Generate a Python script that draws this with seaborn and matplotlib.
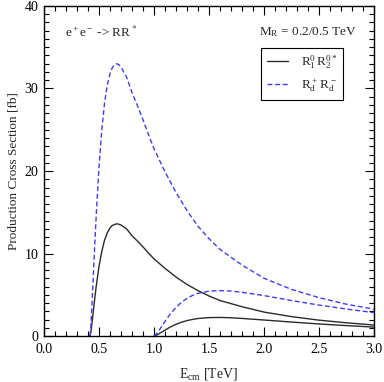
import numpy as np
import pandas as pd
import matplotlib
matplotlib.use('Agg')
import matplotlib.pyplot as plt
import matplotlib.ticker as ticker
import seaborn as sns

#=============================================================================
# values

# light pair (M_R = 0.2 TeV)
e_light = [0.418, 0.425, 0.43, 0.44, 0.45, 0.46, 0.475, 0.50, 0.525, 0.55,
           0.575, 0.60, 0.62, 0.63, 0.66, 0.68, 0.70, 0.75, 0.80, 0.85, 0.90,
           0.95, 1.00, 1.10, 1.20, 1.30, 1.40, 1.50, 1.60, 1.80, 2.00, 2.25,
           2.50, 2.75, 3.00]
xs_neutral_light = [0.0, 0.42, 0.9, 2.0, 3.2, 4.4, 6.05, 8.45, 10.25, 11.6,
                    12.5, 13.1, 13.4, 13.45, 13.6, 13.55, 13.45, 13.0, 12.15,
                    11.5, 10.8, 10.05, 9.35, 8.2, 7.15, 6.25, 5.5, 4.85, 4.3,
                    3.55, 2.9, 2.35, 1.92, 1.6, 1.33]
xs_charged_light = [0.0, 1.0, 2.2, 4.9, 7.8, 10.7, 14.7, 20.5, 24.9, 28.2,
                    30.4, 31.8, 32.5, 32.7, 33.0, 32.9, 32.6, 31.4, 29.5,
                    27.9, 26.2, 24.4, 22.7, 19.9, 17.4, 15.2, 13.3, 11.8,
                    10.5, 8.6, 7.0, 5.65, 4.65, 3.85, 3.25]

# heavy pair (M_R = 0.5 TeV)
e_heavy = [1.0, 1.025, 1.05, 1.1, 1.15, 1.2, 1.25, 1.3, 1.35, 1.4, 1.5, 1.6,
           1.7, 1.8, 2.0, 2.25, 2.5, 2.75, 3.0]
xs_neutral_heavy = [0.0, 0.12, 0.31, 0.72, 1.1, 1.42, 1.67, 1.87, 2.01, 2.12,
                    2.23, 2.25, 2.21, 2.13, 1.94, 1.69, 1.46, 1.26, 1.08]
xs_charged_heavy = [0.0, 0.3, 0.76, 1.77, 2.7, 3.47, 4.09, 4.57, 4.92, 5.17,
                    5.44, 5.5, 5.45, 5.3, 4.9, 4.3, 3.75, 3.27, 2.83]

#=============================================================================
sns.set_style('ticks')
plt.rcParams['font.family'] = ['Liberation Serif', 'DejaVu Serif']
plt.rcParams['mathtext.fontset'] = 'stix'

ft = 10
c_black = '#2b2b2b'
c_blue = '#3b3bff'
dash = (0, (3.5, 2))

fig = plt.figure(figsize=(3.84, 3.82), dpi=100)
ax = fig.add_axes([0.1146, 0.1204, 0.974 - 0.1146, 0.9843 - 0.1204])

lab_n = r'$\mathregular{R_1^0\,R_2^{0*}}$'
lab_c = r'$\mathregular{R_d^+\,R_d^-}$'

sns.lineplot(x=e_light, y=xs_neutral_light, color=c_black, lw=1.0, ax=ax,
             label=lab_n)
sns.lineplot(x=e_light, y=xs_charged_light, color=c_blue, lw=1.0, ax=ax,
             label=lab_c, linestyle=dash)
sns.lineplot(x=e_heavy, y=xs_neutral_heavy, color=c_black, lw=1.0, ax=ax)
sns.lineplot(x=e_heavy, y=xs_charged_heavy, color=c_blue, lw=1.0, ax=ax,
             linestyle=dash)

ax.set_xlim(0, 3)
ax.set_ylim(0, 40)
ax.xaxis.set_major_locator(ticker.MultipleLocator(0.5))
ax.xaxis.set_minor_locator(ticker.MultipleLocator(0.1))
ax.yaxis.set_major_locator(ticker.MultipleLocator(10))
ax.yaxis.set_minor_locator(ticker.MultipleLocator(1))
ax.xaxis.set_major_formatter(ticker.FormatStrFormatter('%.1f'))
ax.tick_params(which='both', direction='in', top=True, right=True,
               labelsize=ft, width=0.8, colors='k')
ax.tick_params(which='major', length=6.5)
ax.tick_params(which='minor', length=3.5)
ax.tick_params(axis='x', pad=5)
ax.tick_params(axis='y', pad=4)
for s in ax.spines.values():
    s.set_linewidth(1.0)
    s.set_color('k')

ax.set_xlabel(r'$\mathregular{E_{cm}}$ [TeV]', fontsize=ft, labelpad=7)
ax.set_ylabel('Production Cross Section [fb]', fontsize=9.5, labelpad=4)

ax.text(0.065, 0.92, r'$\mathregular{e^+e^-}$ -> RR$^*$', transform=ax.transAxes,
        fontsize=9.5, ha='left', va='center')
ax.text(0.948, 0.922, r'$\mathregular{M_R}$ = 0.2/0.5 TeV', transform=ax.transAxes,
        fontsize=9.5, ha='right', va='center')

leg = ax.legend(loc='upper right', bbox_to_anchor=(0.907, 0.873), fontsize=9.5,
                fancybox=False, edgecolor='k', framealpha=1, handlelength=1.6,
                borderpad=0.45, labelspacing=0.35, handletextpad=1.0,
                borderaxespad=0)
leg.get_frame().set_linewidth(0.8)

plt.savefig('out.png', dpi=100)
